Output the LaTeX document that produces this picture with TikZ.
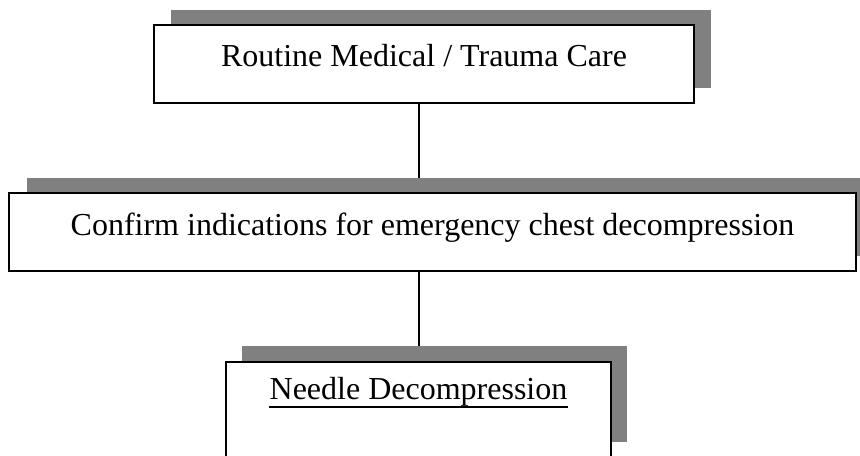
\documentclass[tikz,border=0pt]{standalone}
\usepackage{fontspec}
\setmainfont{Liberation Serif}
\begin{document}
\begin{tikzpicture}[x=0.5pt,y=-0.5pt,
  shadowbox/.style={fill=shadowgray,draw=none,inner sep=0pt,outer sep=0pt},
  mainbox/.style={fill=white,draw=black,line width=1pt,inner sep=0pt,outer sep=0pt},
  label/.style={anchor=base,inner sep=0pt,font=\fontsize{16}{19}\selectfont},
  conn/.style={draw=black,line width=1pt}]
\definecolor{shadowgray}{HTML}{808080}
\useasboundingbox (0,0) rectangle (860,455);
\clip (0,0) rectangle (860,455);
% shadows
\node[shadowbox,minimum width=270pt,minimum height=39pt] (s1) at (441,49) {};
\node[shadowbox,minimum width=423.5pt,minimum height=39pt] (s2) at (450.5,217) {};
\node[shadowbox,minimum width=192.5pt,minimum height=48pt] (s3) at (434.5,394) {};
% boxes
\node[mainbox,minimum width=270pt,minimum height=39pt] (b1) at (424,64) {};
\node[mainbox,minimum width=423.5pt,minimum height=39pt] (b2) at (432.5,232) {};
\node[mainbox,minimum width=192.5pt,minimum height=48pt] (b3) at (418.5,410) {};
% connectors
\draw[conn] (b1.south -| b3.north) -- (s2.north -| b3.north);
\draw[conn] (b2.south -| b3.north) -- (s3.north -| b3.north);
% texts
\node[label] (t1) at (424,66) {Routine Medical / Trauma Care};
\node[label] (t2) at (432.5,235) {Confirm indications for emergency chest decompression};
\node[label] (t3) at (418.5,399) {Needle Decompression};
\draw[line width=1pt] ([yshift=-4pt]t3.base west) -- ([yshift=-4pt]t3.base east);
\end{tikzpicture}
\end{document}
